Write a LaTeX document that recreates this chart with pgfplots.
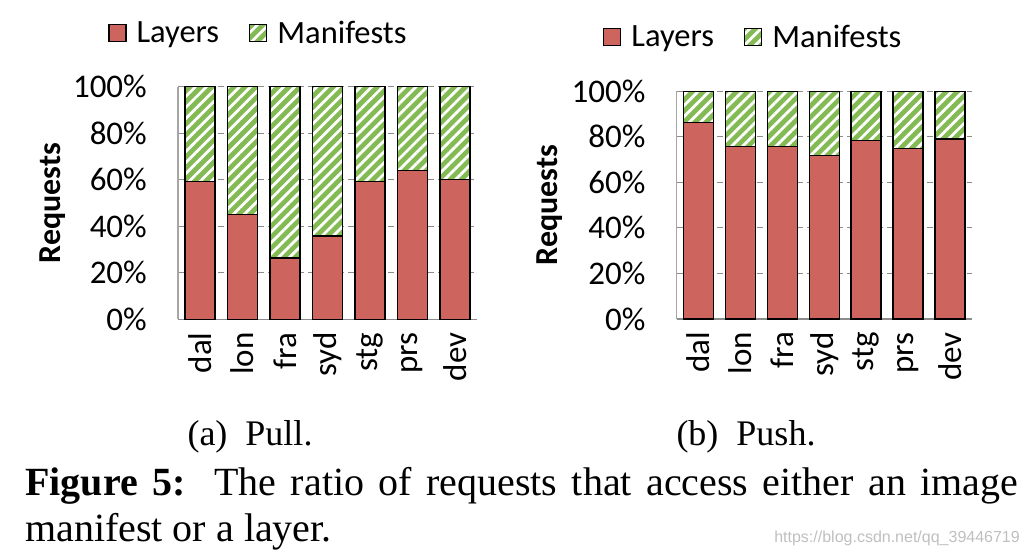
\documentclass[border=0pt]{standalone}
\usepackage{fontspec}
\setmainfont{Carlito}
\newfontfamily\capfont{Liberation Serif}
\newfontfamily\wmfont{Liberation Sans}
\usepackage{pgfplots}
\pgfplotsset{compat=1.18}
\usetikzlibrary{patterns.meta}
\definecolor{lred}{RGB}{205,101,94}
\definecolor{mgreen}{RGB}{132,186,84}

\pgfplotsset{
  reqstyle/.style={
    scale only axis,
    anchor=south west,
    ybar stacked,
    bar width=30pt,
    ymin=0, ymax=100,
    xmin=-0.52, xmax=6.52,
    xtick={0,...,6},
    xticklabels={dal,lon,fra,syd,stg,prs,dev},
    ytick={0,20,40,60,80,100},
    yticklabels={0\%,20\%,40\%,60\%,80\%,100\%},
    major tick length=0pt,
    tick style={draw=none},
    axis x line*=bottom, axis y line*=left,
    x axis line style={draw=black!45, line width=1.2pt, -},
    y axis line style={draw=black!35, line width=1.2pt, -},
    ymajorgrids,
    major grid style={draw=black!45, dash pattern=on 6pt off 4pt, line width=1pt},
    tick label style={font=\fontsize{33}{39}\selectfont},
    xticklabel style={rotate=90, anchor=east, inner sep=0pt},
    yticklabel style={anchor=east, inner sep=0pt},
    xticklabel shift=13pt,
    yticklabel shift=31pt,
    ylabel={\textbf{Requests}},
    ylabel style={font=\fontsize{32}{38}\selectfont, anchor=center},
    legend columns=2,
    legend image code/.code={\draw[##1] (0pt,-8.5pt) rectangle (17pt,8.5pt);},
    legend style={draw=none, fill=none, inner sep=0pt, anchor=west,
      font=\fontsize{32.5}{38}\selectfont,
      nodes={inner sep=0pt},
      /tikz/every odd column/.style={column sep=10pt},
      /tikz/every even column/.style={column sep=30pt}},
  },
  layersbar/.style={fill=lred, draw=black, line width=1.3pt},
  manbar/.style={draw=black, line width=1.3pt, preaction={fill=mgreen},
    pattern={Lines[angle=45,distance=7.8pt,line width=2.8pt]}, pattern color=white},
}

\begin{document}
\begin{tikzpicture}
\path[use as bounding box] (0,0) rectangle (1030pt,558pt);

% (a) Pull
\begin{axis}[reqstyle,
  at={(178pt,238.7pt)}, width=299pt, height=232.6pt,
  ylabel style={at={(axis description cs:-0.42,0.5)}},
  legend style={at={(axis description cs:-0.234,1.231)}}]
\addplot[layersbar] coordinates {(0,59.2) (1,45.1) (2,26.4) (3,35.8) (4,59.2) (5,63.9) (6,60.2)};
\addplot[manbar] coordinates {(0,40.8) (1,54.9) (2,73.6) (3,64.2) (4,40.8) (5,36.1) (6,39.8)};
\legend{Layers, Manifests}
\end{axis}

% (b) Push
\begin{axis}[reqstyle,
  at={(676.7pt,239pt)}, width=295pt, height=228pt,
  ylabel style={at={(axis description cs:-0.43,0.5)}},
  legend style={at={(axis description cs:-0.25,1.237)}}]
\addplot[layersbar] coordinates {(0,86.3) (1,75.7) (2,75.7) (3,71.6) (4,78.2) (5,74.9) (6,79.0)};
\addplot[manbar] coordinates {(0,13.7) (1,24.3) (2,24.3) (3,28.4) (4,21.8) (5,25.1) (6,21.0)};
\legend{Layers, Manifests}
\end{axis}

\node[anchor=base, inner sep=0pt, font=\capfont\fontsize{36}{43}\selectfont] at (250pt,113pt) {(a)\ \ Pull.};
\node[anchor=base, inner sep=0pt, font=\capfont\fontsize{36}{43}\selectfont] at (746pt,113pt) {(b)\ \ Push.};
\node[anchor=base west, inner sep=0pt, font=\capfont\fontsize{40}{48}\selectfont] at (25pt,63pt)
  {\makebox[993pt][s]{\textbf{Figure 5:}\ \ The ratio of requests that access either an image}};
\node[anchor=base west, inner sep=0pt, font=\capfont\fontsize{40}{48}\selectfont] at (25pt,16.3pt)
  {manifest or a layer.};
\node[anchor=base east, inner sep=0pt, text=black!25, font=\wmfont\fontsize{16}{18}\selectfont] at (1020pt,16pt)
  {https://blog.csdn.net/qq\_39446719};
\end{tikzpicture}
\end{document}
